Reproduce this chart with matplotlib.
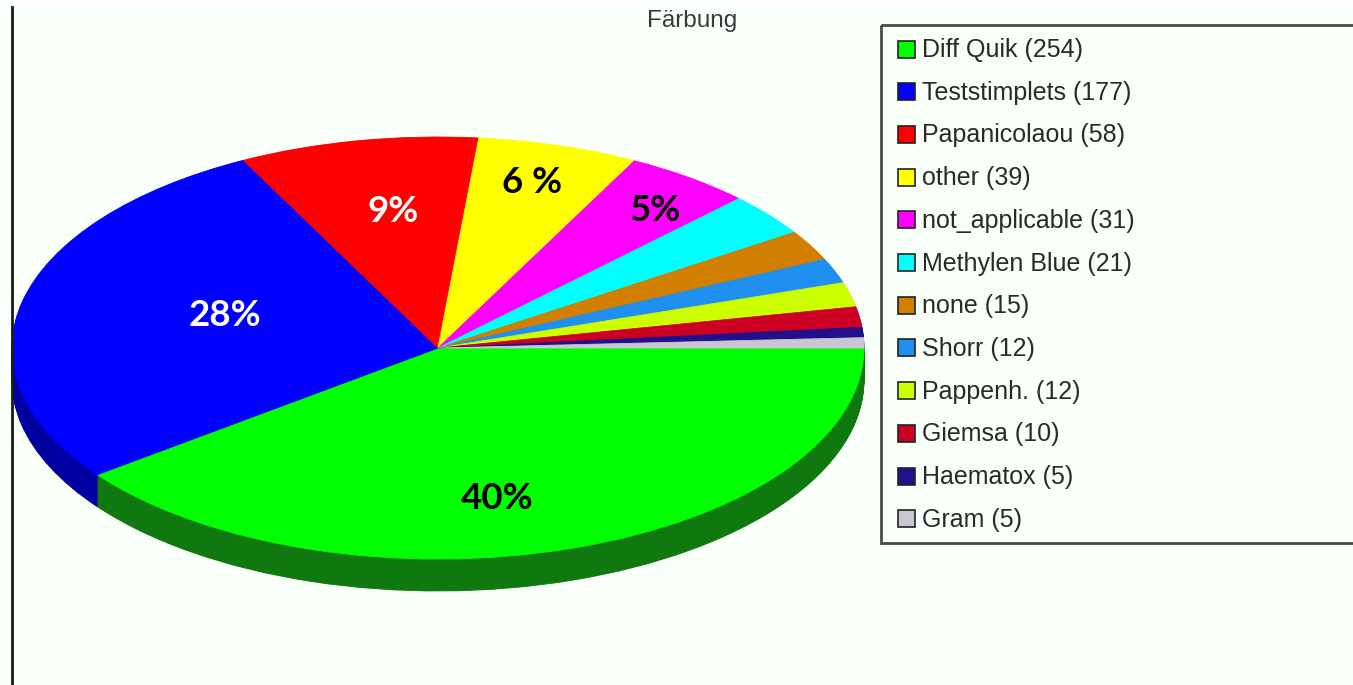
import matplotlib
matplotlib.use("Agg")
import matplotlib.pyplot as plt
from matplotlib.patches import Rectangle
import matplotlib.colors as mcolors
import numpy as np

# ---- data ----
categories = ["Diff Quik", "Teststimplets", "Papanicolaou", "other", "not_applicable",
              "Methylen Blue", "none", "Shorr", "Pappenh.", "Giemsa", "Haematox", "Gram"]
counts = [254, 177, 58, 39, 31, 21, 15, 12, 12, 10, 5, 5]
colors = ["#00ff00", "#0000ff", "#ff0000", "#ffff00", "#ff00ff", "#00ffff",
          "#d07f00", "#1f8ff0", "#ccff00", "#cc0022", "#22108a", "#c8c8d4"]
pct_labels = ["40%", "28%", "9%", "6 %", "5%"]
pct_colors = ["black", "white", "white", "black", "black"]
title = "Färbung"

# ---- geometry (pixels) ----
W, H, DPI = 1353, 685, 100
cx, cy, rx, ry, depth = 438, 348, 426, 211, 32

fig = plt.figure(figsize=(W / DPI, H / DPI), dpi=DPI, facecolor="#f9fff9")

# pie axes: top ellipse spans x cx-rx..cx+rx, y cy-ry..cy+ry (+depth below)
left = (cx - rx) / W
bottom = (H - (cy + ry + depth)) / H
ax = fig.add_axes([left, bottom, 2 * rx / W, (2 * ry + depth) / H])
ax.patch.set_alpha(0)

d_unit = depth / ry
side_colors = [tuple(c * 0.5 for c in mcolors.to_rgb(col)) for col in colors]
side_colors[0] = "#0f780f"
side_colors[1] = "#0000a0"

# side walls: stacked darker pies
for d in np.linspace(d_unit, 0.0, 40, endpoint=False):
    wedges, _ = ax.pie(counts, colors=side_colors, startangle=0, counterclock=False,
                       center=(0, -d), radius=1, wedgeprops=dict(linewidth=0.6))
    for w in wedges:
        w.set_edgecolor(w.get_facecolor())

# top face
wedges, _ = ax.pie(counts, colors=colors, startangle=0, counterclock=False,
                   center=(0, 0), radius=1, wedgeprops=dict(linewidth=0.6))
for w in wedges:
    w.set_edgecolor(w.get_facecolor())

ax.set_aspect("auto")
ax.set_xlim(-1, 1)
ax.set_ylim(-1 - d_unit, 1)
ax.axis("off")

# percentage labels (positions in pie units)
label_pos = [(0.139, -0.711), (-0.50, 0.156), (-0.106, 0.645), (0.221, 0.782), (0.509, 0.654)]
for txt, col, (px, py) in zip(pct_labels, pct_colors, label_pos):
    ax.text(px, py, txt, color=col, fontsize=26.5, fontweight="bold", family="Lato",
            ha="center", va="center")

# overlay axes in pixel coordinates for title, legend, border
ov = fig.add_axes([0, 0, 1, 1])
ov.set_xlim(0, W)
ov.set_ylim(H, 0)
ov.axis("off")
ov.patch.set_alpha(0)

ov.add_patch(Rectangle((0, 0), W, 7, facecolor="white", edgecolor="none", zorder=0))
ov.plot([11.5, 11.5], [7, H], color="#1a1a1a", lw=2)

ov.text(692, 21, title, ha="center", va="center", fontsize=17.5, color="#3a3a3a",
        family="Liberation Sans")

# legend
ov.add_patch(Rectangle((880.5, 25), 520, 518, facecolor="none", edgecolor="#4a4a4a",
                       lw=2, clip_on=True))
row0, step = 49, 42.7
for i, (cat, n, col) in enumerate(zip(categories, counts, colors)):
    y = row0 + i * step
    ov.add_patch(Rectangle((898, y - 8.5), 17, 17, facecolor=col, edgecolor="#222222", lw=1.2))
    ov.text(922, y + 1, f"{cat} ({n})", ha="left", va="center", fontsize=18,
            color="#2a2a2a", family="Liberation Sans")

fig.savefig("out.png", dpi=DPI, facecolor=fig.get_facecolor())
